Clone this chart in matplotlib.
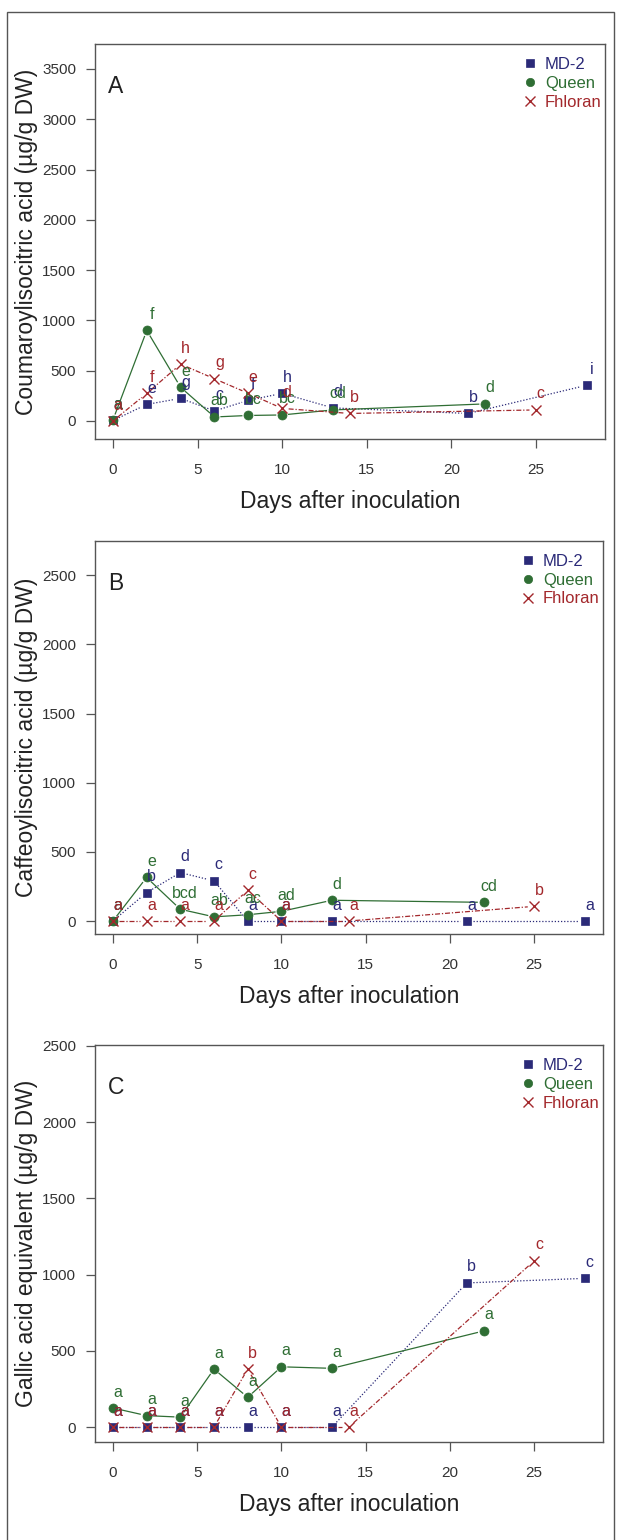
import numpy as np
import matplotlib.pyplot as plt
from matplotlib.lines import Line2D
from matplotlib.patches import Rectangle

plt.rcParams['font.family'] = ['Liberation Sans', 'DejaVu Sans']

# sampling days for each cultivar
days_md2 = [0, 2, 4, 6, 8, 10, 13, 21, 28]
days_queen = [0, 2, 4, 6, 8, 10, 13, 22]
days_fhloran = [0, 2, 4, 6, 8, 10, 14, 25]

# Panel A: coumaroylisocitric acid
md2_a = [5, 165, 225, 100, 205, 275, 130, 75, 355]
queen_a = [10, 900, 335, 40, 55, 60, 110, 170]
fhloran_a = [0, 275, 565, 420, 275, 125, 75, 110]
md2_a_lab = ['a', 'e', 'g', 'c', 'f', 'h', 'd', 'b', 'i']
queen_a_lab = ['a', 'f', 'e', 'ab', 'bc', 'bc', 'cd', 'd']
fhloran_a_lab = ['a', 'f', 'h', 'g', 'e', 'd', 'b', 'c']

# Panel B: caffeoylisocitric acid
md2_b = [0, 205, 350, 290, 0, 0, 0, 0, 0]
queen_b = [0, 315, 85, 30, 45, 70, 150, 135]
fhloran_b = [0, 0, 0, 0, 222, 0, 0, 106]
md2_b_lab = ['a', 'b', 'd', 'c', 'a', 'a', 'a', 'a', 'a']
queen_b_lab = ['a', 'e', 'bcd', 'ab', 'ac', 'ad', 'd', 'cd']
fhloran_b_lab = ['a', 'a', 'a', 'a', 'c', 'a', 'a', 'b']

# Panel C: gallic acid equivalent
md2_c = [0, 0, 0, 0, 0, 0, 0, 945, 975]
queen_c = [125, 75, 65, 380, 195, 395, 385, 630]
fhloran_c = [0, 0, 0, 0, 380, 0, 0, 1090]
md2_c_lab = ['a', 'a', 'a', 'a', 'a', 'a', 'a', 'b', 'c']
queen_c_lab = ['a', 'a', 'a', 'a', 'a', 'a', 'a', 'a']
fhloran_c_lab = ['a', 'a', 'a', 'a', 'b', 'a', 'a', 'c']

cultivars = ['MD-2', 'Queen', 'Fhloran']
colors = ['#2b2a78', '#2f6e34', '#a3282c']
markers = ['s', 'o', 'x']
msizes = [5.8, 6.5, 7]
linestyles = [(0, (1, 1.5)), '-', (0, (4, 1.5, 1, 1.5))]

W, H = 619, 1540
fig = plt.figure(figsize=(W / 100, H / 100), dpi=100)

# outer frame
fig.patches.append(Rectangle((7 / W, 1 - 1545 / H), 607 / W, 1533 / H,
                             transform=fig.transFigure, fill=False,
                             edgecolor='#555555', linewidth=1.0))


def px_axes(left, top, right, bottom):
    return fig.add_axes([left / W, 1 - bottom / H, (right - left) / W, (bottom - top) / H])


def gapped_line(ax, x, y, gap=6.5, **kw):
    # R type="b": line segments stop short of each point
    pts = ax.transData.transform(np.column_stack([x, y]))
    inv = ax.transData.inverted()
    for p0, p1 in zip(pts[:-1], pts[1:]):
        d = p1 - p0
        n = np.hypot(*d)
        if n <= 2 * gap:
            continue
        u = d / n
        seg = inv.transform(np.array([p0 + u * gap, p1 - u * gap]))
        ax.plot(seg[:, 0], seg[:, 1], **kw)


panels = [
    dict(box=(95, 44, 605, 439), ylim=(-179, 3748), yticks=range(0, 3501, 500),
         ylabel='Coumaroylisocitric acid (µg/g DW)', letter='A',
         vals=[md2_a, queen_a, fhloran_a], labs=[md2_a_lab, queen_a_lab, fhloran_a_lab]),
    dict(box=(95, 541, 603, 934), ylim=(-94, 2748), yticks=range(0, 2501, 500),
         ylabel='Caffeoylisocitric acid (µg/g DW)', letter='B',
         vals=[md2_b, queen_b, fhloran_b], labs=[md2_b_lab, queen_b_lab, fhloran_b_lab]),
    dict(box=(95, 1045, 603, 1442), ylim=(-98, 2505), yticks=range(0, 2501, 500),
         ylabel='Gallic acid equivalent (µg/g DW)', letter='C',
         vals=[md2_c, queen_c, fhloran_c], labs=[md2_c_lab, queen_c_lab, fhloran_c_lab]),
]
days = [days_md2, days_queen, days_fhloran]

for p in panels:
    ax = px_axes(*p['box'])
    ax.set_xlim(-1.06, 29.08)
    ax.set_ylim(*p['ylim'])
    for i in range(3):
        gapped_line(ax, days[i], p['vals'][i], color=colors[i], linestyle=linestyles[i],
                    linewidth=0.9, zorder=2 + i)
        ax.plot(days[i], p['vals'][i], color=colors[i], linestyle='none',
                marker=markers[i], markersize=msizes[i],
                markeredgewidth=1.0 if markers[i] == 'x' else 0.5,
                zorder=2 + i)
    for i in range(3):
        for d, v, t in zip(days[i], p['vals'][i], p['labs'][i]):
            ax.annotate(t, (d, v), xytext=(3.5, 11.5), textcoords='offset points',
                        ha='center', va='center', fontsize=11.5, color=colors[i],
                        zorder=6 + i)
    ax.set_xlim(-1.06, 29.08)
    ax.set_ylim(*p['ylim'])
    ax.set_xticks(range(0, 26, 5))
    ax.set_yticks(list(p['yticks']))
    ax.tick_params(direction='out', length=6.5, width=0.9, color='#555555',
                   labelsize=11, labelcolor='#333333')
    ax.tick_params(axis='x', pad=11)
    ax.tick_params(axis='y', pad=7)
    for s in ax.spines.values():
        s.set_color('#555555')
        s.set_linewidth(1.0)
    ax.set_xlabel('Days after inoculation', fontsize=16.5, color='#222222', labelpad=9)
    ax.set_ylabel(p['ylabel'], fontsize=16.5, color='#222222', labelpad=3)
    ax.text(0.025, 0.892, p['letter'], transform=ax.transAxes, fontsize=16.5,
            color='#222222', ha='left', va='center')

    handles = [Line2D([], [], color=colors[i], marker=markers[i], linestyle='none',
                      markersize=msizes[i] - 0.5,
                      markeredgewidth=1.0 if markers[i] == 'x' else 0.5)
               for i in range(3)]
    leg = ax.legend(handles, cultivars, loc='upper right', bbox_to_anchor=(1.0, 0.975),
                    frameon=False, fontsize=12, handlelength=0.8, handletextpad=0.5,
                    labelspacing=0.22, borderpad=0.2, borderaxespad=0.0)
    for txt, c in zip(leg.get_texts(), colors):
        txt.set_color(c)

fig.savefig('out.png', dpi=100)
